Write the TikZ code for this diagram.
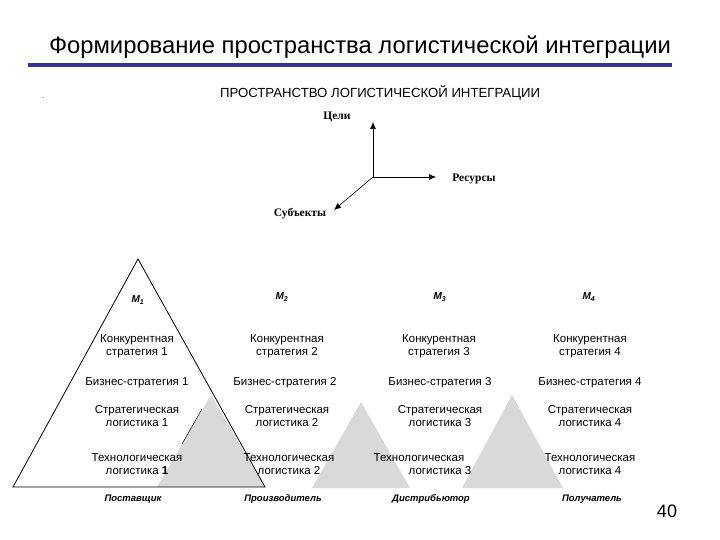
\documentclass[tikz,border=0pt]{standalone}
\usepackage{fontspec}
\setmainfont{Liberation Sans}
\newfontfamily\axisfont{Liberation Serif}
\usetikzlibrary{arrows.meta}
\definecolor{barblue}{HTML}{333399}
\tikzset{
    lvl/.style = {align=center, inner sep=0pt, font=\fontsize{11.5}{13}\selectfont},
    mlab/.style = {inner sep=0pt, font=\fontsize{10}{12}\selectfont\bfseries\itshape},
    role/.style = {inner sep=0pt, font=\fontsize{9.5}{11}\selectfont\bfseries\itshape},
    axlab/.style = {inner sep=0pt, font=\axisfont\fontsize{11.5}{13}\selectfont\bfseries},
    axis arrow/.style = {draw, line width=0.6pt, -{Latex[length=7pt, width=6pt]}},
    shade tri/.style = {fill=gray!30, draw=none},
}

\begin{document}
\begin{tikzpicture}[x=1pt, y=-1pt]
                \useasboundingbox (0,0) rectangle (720,540);

                % heading
                \node[font=\fontsize{23.8}{27}\selectfont] (title) at (360,47) {Формирование пространства логистической интеграции};
                \fill[barblue] (28,63) rectangle (672,67);
                \node[font=\fontsize{13.2}{15}\selectfont] (space) at (380,93) {ПРОСТРАНСТВО ЛОГИСТИЧЕСКОЙ ИНТЕГРАЦИИ};
                \node[inner sep=0pt, font=\fontsize{8}{9}\selectfont] (dot) at (43,98) {.};

                % axes
                \coordinate (o) at (373,177);
                \coordinate (goals) at (373,122);
                \coordinate (res) at (436,177);
                \coordinate (subj) at (334,210);
                \draw[axis arrow] (o) -- (goals);
                \draw[axis arrow] (o) -- (res);
                \draw[axis arrow] (o) -- (subj);
                \node[axlab] (goalslab) at (337,117) {Цели};
                \node[axlab] (reslab) at (474,179) {Ресурсы};
                \node[axlab] (subjlab) at (300,214) {Субъекты};

                % grey triangles
                \fill[shade tri] (211,395) -- (157,487) -- (265,487) -- cycle;
                \fill[shade tri] (361,402) -- (312,488) -- (410,488) -- cycle;
                \fill[shade tri] (512,395) -- (462,488) -- (563,488) -- cycle;
                \draw[line width=0.5pt] (202,409) -- (182,444);

                % supplier pyramid
                \coordinate (top) at (138,259);
                \coordinate (bl) at (13,487);
                \coordinate (br) at (265,487);
                \draw[line width=0.8pt] (bl) -- (top) -- (br) -- cycle;

                % levels
                \node[mlab] (m1) at (138,300) {M\textsubscript{1}};
                \node[mlab] (m2) at (282,297) {M\textsubscript{2}};
                \node[mlab] (m3) at (440,297) {M\textsubscript{3}};
                \node[mlab] (m4) at (589,297) {M\textsubscript{4}};

                \node[lvl] (k1) at (137,346) {Конкурентная\\стратегия 1};
                \node[lvl] (k2) at (287,346) {Конкурентная\\стратегия 2};
                \node[lvl] (k3) at (439,346) {Конкурентная\\стратегия 3};
                \node[lvl] (k4) at (590,346) {Конкурентная\\стратегия 4};

                \node[lvl] (b1) at (137,383) {Бизнес-стратегия 1};
                \node[lvl] (b2) at (285,383) {Бизнес-стратегия 2};
                \node[lvl] (b3) at (440,383) {Бизнес-стратегия 3};
                \node[lvl] (b4) at (590,383) {Бизнес-стратегия 4};

                \node[lvl] (s1) at (137,416) {Стратегическая\\логистика 1};
                \node[lvl] (s2) at (287,416) {Стратегическая\\логистика 2};
                \node[lvl] (s3) at (440,416) {Стратегическая\\логистика 3};
                \node[lvl] (s4) at (590,416) {Стратегическая\\логистика 4};

                \node[lvl] (t1) at (137,464) {Технологическая\\логистика \textbf{1}};
                \node[lvl] (t2) at (289,464) {Технологическая\\логистика 2};
                \node[lvl] (t3a) at (419,458) {Технологическая};
                \node[lvl] (t3b) at (440,471) {логистика 3};
                \node[lvl] (t4) at (590,464) {Технологическая\\логистика 4};

                % participants
                \node[role] (p1) at (133,499) {Поставщик};
                \node[role] (p2) at (283,499) {Производитель};
                \node[role] (p3) at (431,499) {Дистрибьютор};
                \node[role] (p4) at (592,499) {Получатель};

                \node[font=\fontsize{18}{20}\selectfont] (page) at (667,511) {40};
            \end{tikzpicture}
\end{document}
